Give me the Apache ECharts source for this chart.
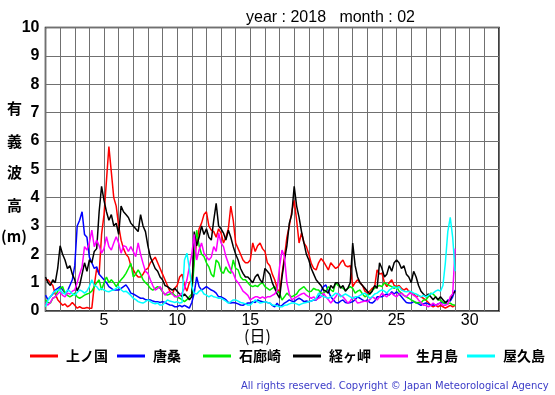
<!DOCTYPE html>
<html><head><meta charset="utf-8">
<script src="https://cdn.jsdelivr.net/npm/echarts@6/dist/echarts.min.js"></script>
<style>html,body{margin:0;padding:0;background:#fff}#c{width:555px;height:395px}</style>
</head><body><div id="c"></div>
<script>
// sampling: first value at day 1.0, one value every 4 hours (1/6 day)
const startDay = 1;
const stepDay = 1 / 6;
const stations = ['上ノ国', '唐桑', '石廊崎', '経ヶ岬', '生月島', '屋久島'];
const colors = ['#ff0000', '#0000ff', '#00ee00', '#000000', '#ff00ff', '#00ffff'];
const xTickLabels = [5, 10, 15, 20, 25, 30];
const yTickLabels = [0, 1, 2, 3, 4, 5, 6, 7, 8, 9, 10];

const kaminokuni = [1.1,1.1,1.0,0.9,0.6,0.4, 0.3,0.2,0.25,0.15,0.2,0.3, 0.2,0.1,0.15,0.1,0.1,0.12,
 0.1,0.1,0.9,1.5,1.3,2.7, 3.4,4.6,5.8,4.9,4.0,3.7, 3.0,2.5,2.2,2.0,1.9,1.6,
 1.45,1.3,1.2,1.2,1.3,1.45, 1.5,1.7,1.8,1.9,1.7,1.5, 1.3,1.1,0.9,0.7,0.6,0.8,
 0.9,1.2,1.3,0.9,0.7,1.0, 1.1,1.8,2.4,2.9,3.1,3.4, 3.5,3.0,2.85,2.8,2.6,2.9,
 2.75,2.4,2.6,2.9,3.7,3.2, 2.4,2.2,2.0,1.8,1.7,1.7, 1.8,2.4,2.1,2.3,2.4,2.2,
 2.1,1.7,1.6,1.3,1.1,0.8, 0.63,1.3,1.9,2.6,3.0,3.5, 3.9,3.2,2.4,2.75,2.4,2.27,
 2.0,1.68,1.5,1.45,1.7,1.85, 1.75,1.6,1.45,1.7,1.6,1.5, 1.56,1.7,1.8,1.6,1.56,1.6,
 0.86,1.0,1.1,1.0,0.9,0.7, 0.63,0.7,0.8,0.86,1.45,1.3, 1.33,1.0,0.86,1.0,1.1,0.9,
 0.86,0.9,0.8,0.74,0.8,0.7, 0.63,0.6,0.5,0.55,0.5,0.45, 0.39,0.3,0.2,0.15,0.2,0.15,
 0.2,0.15,0.1,0.15,0.2,0.15, 0.2];
const karakuwa = [0.56,0.4,0.5,0.6,0.74,0.8, 0.86,0.75,0.63,0.7,0.9,1.1, 1.6,3.0,3.2,3.5,2.7,2.6,
 1.9,1.7,1.5,1.56,1.3,1.2, 1.1,1.0,0.86,0.8,0.74,0.74, 0.74,0.8,0.86,0.92,0.8,0.63,
 0.6,0.55,0.5,0.45,0.45,0.4, 0.4,0.39,0.35,0.33,0.33,0.3, 0.33,0.3,0.25,0.21,0.2,0.15,
 0.15,0.2,0.15,0.2,0.15,0.1, 0.3,0.63,1.2,0.86,0.74,0.8, 0.86,0.8,0.74,0.7,0.63,0.5,
 0.5,0.45,0.4,0.3,0.28,0.3, 0.28,0.25,0.21,0.2,0.25,0.28, 0.28,0.33,0.3,0.39,0.35,0.33,
 0.33,0.3,0.28,0.2,0.15,0.28, 0.15,0.2,0.28,0.33,0.39,0.35, 0.33,0.4,0.45,0.4,0.33,0.35,
 0.33,0.35,0.39,0.39,0.5,0.7, 0.86,0.92,0.7,0.5,0.4,0.3, 0.28,0.35,0.39,0.3,0.28,0.3,
 0.33,0.4,0.5,0.45,0.39,0.35, 0.39,0.3,0.28,0.35,0.5,0.5, 0.5,0.56,0.6,0.56,0.68,0.6,
 0.68,0.6,0.5,0.4,0.3,0.28, 0.28,0.33,0.3,0.25,0.2,0.25, 0.28,0.25,0.2,0.22,0.2,0.25,
 0.28,0.3,0.25,0.39,0.35,0.5, 0.74];
const irozaki = [0.39,0.3,0.28,0.45,0.5,0.7, 0.8,0.86,0.63,0.55,0.5,0.55, 0.63,0.5,0.45,0.5,0.56,0.6,
 0.63,0.7,0.86,1.0,1.1,0.74, 1.0,1.2,1.0,1.1,1.0,0.86, 1.0,1.1,1.2,1.33,1.5,1.68,
 1.2,1.3,1.45,1.3,1.1,1.0, 0.92,0.8,0.74,0.8,0.86,0.8, 0.68,0.6,0.56,0.6,0.63,0.55,
 0.5,0.45,0.4,0.33,0.4,0.5, 0.6,1.7,2.85,2.3,2.0,1.92, 1.7,1.56,1.3,1.2,1.8,1.7,
 1.4,1.33,1.56,1.4,1.33,1.8, 1.5,1.45,1.2,1.1,1.1,1.0, 0.9,0.86,0.9,0.86,0.95,1.0,
 0.86,0.8,0.74,0.8,0.86,0.7, 0.63,0.39,0.5,0.63,0.55,0.5, 0.55,0.6,0.74,0.8,0.86,0.75,
 0.68,0.7,0.8,0.75,0.74,0.63, 0.63,0.7,0.86,0.75,0.68,1.0, 0.9,0.86,0.8,0.74,0.8,0.86,
 0.8,0.63,0.7,0.74,0.6,0.5, 0.55,0.6,0.74,0.8,0.86,0.9, 0.86,1.0,0.95,0.9,0.86,0.8,
 0.86,0.7,0.63,0.55,0.5,0.45, 0.39,0.35,0.28,0.3,0.28,0.39, 0.39,0.5,0.63,0.6,0.5,0.39,
 0.39,0.3,0.28,0.25,0.28,0.22, 0.2];
const kyogamisaki = [1.2,1.0,0.9,1.1,1.0,1.5, 2.3,2.0,1.8,1.5,1.6,1.3, 1.1,0.7,0.9,1.3,1.7,1.4,
 1.8,1.7,2.1,2.2,3.5,4.4, 3.9,3.5,3.2,3.4,3.0,3.1, 2.7,3.7,3.5,3.4,3.3,3.1,
 3.0,2.9,2.8,3.4,3.0,2.8, 2.3,1.9,1.7,1.5,1.4,1.2, 1.1,0.9,0.86,0.8,0.74,0.8,
 0.7,0.6,0.5,0.6,0.5,0.4, 0.5,2.8,2.3,2.6,3.0,2.7, 2.9,2.6,2.5,3.2,3.8,3.0,
 2.9,2.75,2.5,2.85,2.6,2.27, 2.0,1.8,1.5,1.33,1.2,1.2, 1.1,1.0,1.2,1.3,1.1,1.0,
 1.5,1.4,1.3,1.0,0.8,0.6, 0.45,1.2,1.8,2.3,3.1,3.4, 4.4,3.7,3.3,2.8,2.4,2.0,
 1.8,1.5,1.3,1.1,1.0,0.9, 0.74,0.7,0.63,0.9,0.8,1.0, 1.0,0.8,0.9,0.7,0.8,1.0,
 2.4,1.6,1.2,1.0,0.9,0.8, 0.7,0.6,0.7,0.9,0.8,1.7, 1.5,1.2,1.3,1.6,1.4,1.7,
 1.8,1.7,1.5,1.6,1.3,1.2, 1.0,1.4,1.2,0.9,0.7,0.6, 0.5,0.6,0.5,0.4,0.5,0.4,
 0.5,0.4,0.3,0.35,0.4,0.6, 0.7];
const ikitsukishima = [0.28,0.21,0.3,0.45,0.5,0.6, 0.68,0.55,0.5,0.63,0.6,0.7, 0.74,1.0,1.3,1.56,2.27,2.15,
 2.4,2.85,2.27,2.5,2.3,2.04, 2.2,2.62,2.27,2.15,2.4,2.62, 2.4,2.04,2.3,2.27,2.1,2.27,
 2.1,1.92,2.4,2.0,1.68,1.4, 1.33,1.1,0.9,0.74,0.8,0.86, 0.7,0.56,0.65,0.68,0.6,0.5,
 0.5,0.55,0.63,0.8,1.1,1.56, 2.0,2.7,1.8,2.15,2.4,2.04, 1.92,1.8,1.9,2.27,2.1,2.75,
 2.4,2.27,1.92,1.68,1.45,1.33, 1.1,1.0,0.86,0.7,0.63,0.55, 0.39,0.45,0.5,0.5,0.45,0.5,
 0.45,0.5,0.5,0.55,0.6,0.74, 1.56,2.15,1.92,1.0,0.6,0.39, 0.45,0.5,0.55,0.6,0.63,0.55,
 0.5,0.45,0.5,0.39,0.45,0.5, 0.63,0.5,0.4,0.28,0.39,0.5, 0.63,0.55,0.5,0.4,0.28,0.35,
 0.5,0.4,0.28,0.3,0.33,0.35, 0.33,0.4,0.5,0.45,0.39,0.5, 0.63,0.55,0.5,0.6,0.63,0.55,
 0.5,0.6,0.63,0.55,0.5,0.6, 0.63,0.55,0.5,0.39,0.3,0.2, 0.2,0.15,0.2,0.28,0.2,0.25,
 0.28,0.2,0.2,0.25,0.5,0.6, 2.2];
const yakushima = [0.15,0.39,0.5,0.63,0.7,0.74, 0.74,0.63,0.6,0.74,0.7,0.6, 0.56,0.65,0.74,0.7,0.63,0.7,
 0.86,1.1,0.9,0.86,0.74,0.8, 0.74,0.7,0.68,0.72,0.74,0.8, 0.86,0.75,0.68,0.7,0.63,0.55,
 0.45,0.4,0.33,0.3,0.28,0.33, 0.39,0.33,0.28,0.25,0.28,0.21, 0.21,0.3,0.39,0.35,0.33,0.3,
 0.33,0.28,0.3,1.8,2.04,1.5, 0.86,0.63,0.6,0.7,0.74,0.6, 0.56,0.5,0.55,0.5,0.48,0.45,
 0.45,0.4,0.35,0.28,0.33,0.39, 0.39,0.35,0.3,0.28,0.25,0.21, 0.21,0.3,0.39,0.33,0.28,0.3,
 0.33,0.3,0.28,0.21,0.2,0.18, 0.15,0.15,0.2,0.21,0.25,0.28, 0.28,0.25,0.21,0.25,0.28,0.3,
 0.33,0.35,0.39,0.45,0.63,0.55, 0.5,0.48,0.45,0.5,0.55,0.63, 0.6,0.5,0.55,0.6,0.55,0.5,
 0.45,0.5,0.5,0.55,0.6,0.63, 0.55,0.45,0.5,0.6,0.63,0.7, 0.74,0.7,0.63,0.74,0.8,0.86,
 0.8,0.86,0.74,0.7,0.68,0.7, 0.68,0.63,0.6,0.55,0.5,0.55, 0.5,0.55,0.6,0.63,0.7,0.74,
 0.7,0.9,1.7,2.8,3.3,2.6, 1.4];

const seriesValues = [kaminokuni, karakuwa, irozaki, kyogamisaki, ikitsukishima, yakushima];

const chart = echarts.init(document.getElementById('c'), null, {renderer: 'canvas'});
const legendLefts = [30, 117, 203, 293, 380, 467];
const fontJP = '"Noto Sans CJK JP", sans-serif';

const option = {
  animation: false,
  backgroundColor: '#fff',
  title: {
    text: 'year : 2018   month : 02',
    left: 241, top: 5,
    textStyle: {fontSize: 16, fontWeight: 'normal', color: '#000', fontFamily: 'Liberation Sans, Arial, sans-serif'}
  },
  grid: {left: 45.5, top: 27.5, width: 453.5, height: 283.5, show: true, borderColor: '#000', borderWidth: 1.5, containLabel: false},
  xAxis: {
    type: 'value', min: 1, max: 32, interval: 1,
    axisLine: {show: false}, axisTick: {show: false},
    splitLine: {show: true, lineStyle: {color: '#707070', width: 1}},
    axisLabel: {
      margin: 2, color: '#000', fontSize: 16, fontFamily: 'Liberation Sans, Arial, sans-serif',
      showMinLabel: false, showMaxLabel: false,
      formatter: v => xTickLabels.includes(v) ? String(v) : ''
    }
  },
  yAxis: {
    type: 'value', min: 0, max: 10, interval: 1,
    axisLine: {show: false}, axisTick: {show: false},
    splitLine: {show: true, lineStyle: {color: '#707070', width: 1}},
    axisLabel: {
      margin: 6, color: '#000', fontSize: 16, fontWeight: 'bold', fontFamily: 'Liberation Sans, Arial, sans-serif',
      formatter: v => yTickLabels.includes(v) ? String(v) : ''
    }
  },
  legend: stations.map((name, i) => ({
    data: [name], left: legendLefts[i], top: 349, padding: 0,
    icon: 'rect', itemWidth: 28, itemHeight: 3,
    textStyle: {fontSize: 14, fontWeight: 'bold', color: '#000', fontFamily: fontJP, padding: [0, 0, 0, 3]}
  })),
  graphic: [
    ...['有', '義', '波', '高', '(m)'].map((t, i) => ({
      type: 'text', left: t === '(m)' ? 1 : 7, top: [101, 134, 165, 198, 229][i],
      style: {text: t, fill: '#000', font: 'bold 15px "Noto Sans CJK JP", sans-serif'}
    })),
    {type: 'text', left: 244, top: 328, style: {text: '(日)', fill: '#000', font: '16px "Noto Sans CJK JP", sans-serif'}},
    {type: 'text', left: 241, top: 381, style: {text: 'All rights reserved. Copyright \u00a9 Japan Meteorological Agency', fill: '#3c3cc8', font: '10px "DejaVu Sans", sans-serif'}}
  ],
  series: stations.map((name, i) => ({
    name, type: 'line', showSymbol: false, symbol: 'none',
    lineStyle: {color: colors[i], width: 1.5}, itemStyle: {color: colors[i]},
    data: seriesValues[i].map((v, k) => [startDay + k * stepDay, v])
  }))
};
chart.setOption(option);
</script></body></html>
